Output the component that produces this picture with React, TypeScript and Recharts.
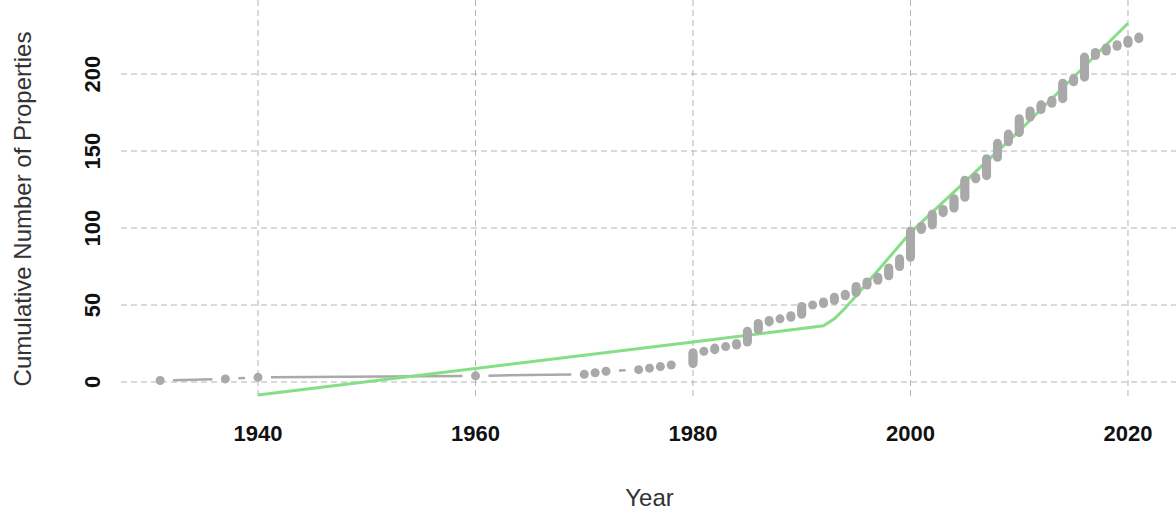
import { ComposedChart, Line, Scatter, XAxis, YAxis, CartesianGrid, Label } from 'recharts'

// Years in which properties were added, and how many were added that year
const years = [
  1931, 1937, 1940, 1960, 1970, 1971, 1972, 1975, 1976, 1977, 1978,
  1980, 1981, 1982, 1983, 1984, 1985, 1986, 1987, 1988, 1989,
  1990, 1991, 1992, 1993, 1994, 1995, 1996, 1997, 1998, 1999,
  2000, 2001, 2002, 2003, 2004, 2005, 2006, 2007, 2008, 2009,
  2010, 2011, 2012, 2013, 2014, 2015, 2016, 2017, 2018, 2019, 2020, 2021,
]
const newProperties = [
  1, 1, 1, 1, 1, 1, 1, 1, 1, 1, 1,
  8, 1, 2, 1, 2, 8, 5, 2, 1, 2,
  6, 1, 2, 3, 2, 5, 3, 3, 6, 6,
  18, 3, 8, 3, 7, 12, 2, 12, 10, 6,
  10, 5, 4, 3, 11, 3, 14, 3, 3, 2, 3, 2,
]

// Fitted trend (segmented fit)
const fitYears = [1940, 1980, 1992, 1993, 1994, 1995, 2000, 2010, 2020]
const fitValues = [-8.5, 26, 36.5, 41, 48, 56, 97, 163, 233]

const xTicks = [1940, 1960, 1980, 2000, 2020]
const yTicks = [0, 50, 100, 150, 200]

const X_DOMAIN = [1927.4, 2024.6]
const Y_DOMAIN = [-11.7, 248.1]

const CHART_W = 1180
const CHART_H = 511
const MARGIN = { top: 0, right: 2, bottom: 0, left: 0 }
const Y_AXIS_W = 121
const X_AXIS_H = 111

const PLOT_X = MARGIN.left + Y_AXIS_W
const PLOT_W = CHART_W - MARGIN.left - MARGIN.right - Y_AXIS_W
const PLOT_H = CHART_H - MARGIN.top - MARGIN.bottom - X_AXIS_H
const pxPerYear = PLOT_W / (X_DOMAIN[1] - X_DOMAIN[0])
const pxPerUnit = PLOT_H / (Y_DOMAIN[1] - Y_DOMAIN[0])

const GRAY = '#a9a9a9'
const GREEN = '#86de86'
const FONT = '"Liberation Sans", Arial, sans-serif'

// one point per property, stacked by cumulative count
const points: { year: number; total: number }[] = []
let running = 0
years.forEach((y, i) => {
  for (let k = 0; k < newProperties[i]; k++) {
    running += 1
    points.push({ year: y, total: running })
  }
})

// connecting line with a gap around every point (like R's type = "b")
const GAP_PX = 13
const linked: { year: number; total: number | null }[] = []
for (let i = 0; i < points.length - 1; i++) {
  const p = points[i]
  const q = points[i + 1]
  const dx = (q.year - p.year) * pxPerYear
  const dy = (q.total - p.total) * pxPerUnit
  const dist = Math.sqrt(dx * dx + dy * dy)
  if (dist <= 2 * GAP_PX) continue
  const f = GAP_PX / dist
  linked.push({ year: p.year + (q.year - p.year) * f, total: p.total + (q.total - p.total) * f })
  linked.push({ year: q.year - (q.year - p.year) * f, total: q.total - (q.total - p.total) * f })
  linked.push({ year: (p.year + q.year) / 2, total: null })
}

const fit = fitYears.map((y, i) => ({ year: y, total: fitValues[i] }))

// grid only at the tick values, no frame lines
const gridRows = yTicks.map(t => MARGIN.top + (Y_DOMAIN[1] - t) * pxPerUnit)
const gridCols = xTicks.map(t => PLOT_X + (t - X_DOMAIN[0]) * pxPerYear)

// eslint-disable-next-line @typescript-eslint/no-explicit-any
function XTick({ x, y, payload }: any) {
  return (
    <text x={x} y={y + 25} textAnchor="middle" dominantBaseline="central"
      fontFamily={FONT} fontSize={22} fontWeight="bold" fill="#111">
      {payload.value}
    </text>
  )
}

// eslint-disable-next-line @typescript-eslint/no-explicit-any
function YTick({ x, y, payload }: any) {
  const tx = x - 20
  return (
    <text x={tx} y={y} textAnchor="middle" dominantBaseline="central"
      transform={`rotate(-90, ${tx}, ${y})`}
      fontFamily={FONT} fontSize={22} fontWeight="bold" fill="#111">
      {payload.value}
    </text>
  )
}

// eslint-disable-next-line @typescript-eslint/no-explicit-any
function Dot({ cx, cy }: any) {
  return <circle cx={cx} cy={cy} r={4.5} fill={GRAY} />
}

export default function App() {
  return (
    <div style={{ position: 'absolute', left: 0, top: 0, width: 1176, height: 511, overflow: 'hidden', background: '#fff' }}>
      <ComposedChart width={CHART_W} height={CHART_H} margin={MARGIN}>
        <CartesianGrid stroke="#b4b4b4" strokeDasharray="6 4" strokeWidth={1}
          horizontalPoints={gridRows}
          verticalPoints={gridCols} />
        <XAxis
          dataKey="year"
          type="number"
          domain={X_DOMAIN}
          ticks={xTicks}
          allowDataOverflow
          height={X_AXIS_H}
          axisLine={false}
          tickLine={false}
          tick={<XTick />}
        >
          <Label
            content={({ viewBox }: any) => (
              <text x={viewBox.x + viewBox.width / 2} y={viewBox.y + 97} textAnchor="middle"
                dominantBaseline="central" fontFamily={FONT} fontSize={24} fill="#333">
                Year
              </text>
            )}
          />
        </XAxis>
        <YAxis
          dataKey="total"
          type="number"
          domain={Y_DOMAIN}
          ticks={yTicks}
          allowDataOverflow
          width={Y_AXIS_W}
          axisLine={false}
          tickLine={false}
          tick={<YTick />}
        >
          <Label
            content={({ viewBox }: any) => {
              const cx = 22
              const cy = viewBox.y + viewBox.height / 2 + 9
              return (
                <text x={cx} y={cy} textAnchor="middle" dominantBaseline="central"
                  transform={`rotate(-90, ${cx}, ${cy})`}
                  fontFamily={FONT} fontSize={24} fill="#333">
                  Cumulative Number of Properties
                </text>
              )
            }}
          />
        </YAxis>
        <Line data={linked} dataKey="total" stroke={GRAY} strokeWidth={2.5} dot={false}
          connectNulls={false} isAnimationActive={false} />
        <Scatter data={points} dataKey="total" shape={<Dot />} isAnimationActive={false} />
        <Line data={fit} dataKey="total" stroke={GREEN} strokeWidth={3} dot={false}
          isAnimationActive={false} />
      </ComposedChart>
    </div>
  )
}
